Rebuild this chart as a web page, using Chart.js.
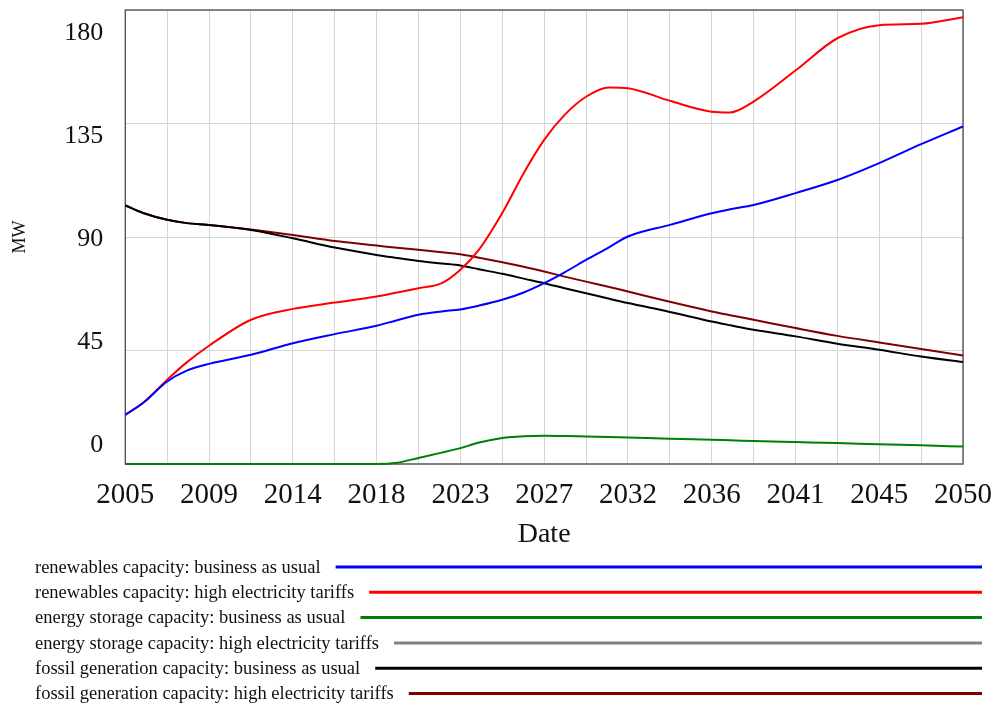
<!DOCTYPE html>
<html><head><meta charset="utf-8">
<script src="https://cdn.jsdelivr.net/npm/chart.js@4.4.0/dist/chart.umd.min.js"></script>
<style>html,body{margin:0;padding:0;background:#fff;overflow:hidden}</style>
</head><body>
<canvas id="c" width="996" height="707"></canvas>
<script>
// ---- data ----
const years = [2005, 2006, 2007.25, 2008.3, 2009.5, 2011.75, 2014, 2016.25, 2018.5, 2019.6, 2020.75, 2022, 2023, 2024, 2025.25, 2026.4, 2027.5, 2028.6, 2029.75, 2031, 2032, 2034.25, 2036.5, 2037.5, 2038.75, 2041, 2043.25, 2045.5, 2047.75, 2050];
const renewablesBAU = [19.5, 24.5, 32.7, 37.0, 39.7, 43.3, 47.9, 51.5, 54.8, 57.0, 59.2, 60.5, 61.3, 62.8, 65.1, 68.0, 71.7, 76.0, 80.9, 86.0, 90.2, 94.8, 99.4, 101.0, 102.7, 107.4, 112.6, 119.3, 126.8, 133.8];
const renewablesHigh = [19.5, 24.5, 33.4, 40.3, 46.9, 57.2, 61.5, 64.0, 66.4, 68.0, 69.7, 71.7, 77.0, 85.0, 99.5, 115.3, 128.5, 138.4, 145.6, 149.3, 149.0, 144.0, 139.7, 139.4, 143.7, 156.0, 168.8, 174.0, 174.5, 177.1];
const storageBAU = [0, 0, 0, 0, 0, 0, 0, 0, 0, 0.5, 2.4, 4.5, 6.3, 8.5, 10.3, 11.0, 11.2, 11.1, 10.9, 10.7, 10.5, 10.0, 9.6, 9.4, 9.1, 8.7, 8.3, 7.8, 7.4, 6.9];
const storageHigh = [0, 0, 0, 0, 0, 0, 0, 0, 0, 0, 0, 0, 0, 0, 0, 0, 0, 0, 0, 0, 0, 0, 0, 0, 0, 0, 0, 0, 0, 0];
const fossilBAU = [102.5, 99.4, 96.8, 95.5, 94.8, 92.8, 89.5, 85.8, 82.9, 81.7, 80.5, 79.5, 78.7, 77.2, 75.4, 73.5, 71.7, 69.7, 67.7, 65.5, 63.8, 60.3, 56.5, 55.0, 53.2, 50.6, 47.7, 45.3, 42.6, 40.4];
const fossilHigh = [102.5, 99.4, 96.8, 95.5, 94.8, 93.0, 90.8, 88.4, 86.6, 85.7, 84.9, 84.0, 83.2, 81.8, 80.0, 78.2, 76.3, 74.3, 72.3, 70.2, 68.4, 64.3, 60.5, 59.0, 57.2, 53.9, 50.8, 48.2, 45.6, 43.0];

const seriesLabels = [
  'renewables capacity: business as usual',
  'renewables capacity: high electricity tariffs',
  'energy storage capacity: business as usual',
  'energy storage capacity: high electricity tariffs',
  'fossil generation capacity: business as usual',
  'fossil generation capacity: high electricity tariffs'
];
const seriesValues = [renewablesBAU, renewablesHigh, storageBAU, storageHigh, fossilBAU, fossilHigh];
const seriesColors = ['#0000ff', '#ff0000', '#008000', '#808080', '#000000', '#800000'];

const xGridYears = [2005, 2007.25, 2009.5, 2011.75, 2014, 2016.25, 2018.5, 2020.75, 2023, 2025.25, 2027.5, 2029.75, 2032, 2034.25, 2036.5, 2038.75, 2041, 2043.25, 2045.5, 2047.75, 2050];
const xTickLabels = ['2005', '2009', '2014', '2018', '2023', '2027', '2032', '2036', '2041', '2045', '2050'];
const yTickValues = [0, 45, 90, 135, 180];
const yTickLabels = ['0', '45', '90', '135', '180'];
const xTitle = 'Date';
const yTitle = 'MW';

const SERIF = "'Liberation Serif', 'Times New Roman', serif";

function noPad(s) { s.paddingTop = 0; s.paddingBottom = 0; s.paddingLeft = 0; s.paddingRight = 0; }

// ---- plugins ----
const framePlugin = {
  id: 'frame',
  beforeDatasetsDraw(chart) {
    const a = chart.chartArea, ctx = chart.ctx;
    ctx.save();
    ctx.strokeStyle = '#4a4a4a';
    ctx.lineWidth = 1.3;
    ctx.strokeRect(a.left, a.top, a.right - a.left, a.bottom - a.top);
    ctx.restore();
  }
};
const lineLegendPlugin = {
  id: 'lineLegend',
  afterDraw(chart) {
    const ctx = chart.ctx;
    ctx.save();
    ctx.font = '18.5px ' + SERIF;
    ctx.textBaseline = 'middle';
    ctx.textAlign = 'left';
    chart.data.datasets.forEach((ds, i) => {
      const y = 567 + i * 25.3;
      ctx.fillStyle = '#111';
      ctx.fillText(ds.label, 35, y + 1);
      const w = ctx.measureText(ds.label).width;
      ctx.strokeStyle = ds.borderColor;
      ctx.lineWidth = 3;
      ctx.beginPath();
      ctx.moveTo(35 + w + 15, y);
      ctx.lineTo(982, y);
      ctx.stroke();
    });
    ctx.restore();
  }
};

// ---- chart ----
new Chart(document.getElementById('c'), {
  type: 'line',
  data: {
    datasets: seriesLabels.map((label, i) => ({
      label,
      data: years.map((x, j) => ({ x, y: seriesValues[i][j] })),
      borderColor: seriesColors[i],
      backgroundColor: seriesColors[i],
      borderWidth: 2,
      pointRadius: 0,
      cubicInterpolationMode: 'monotone',
      fill: false,
      clip: 3
    }))
  },
  options: {
    responsive: false,
    animation: false,
    devicePixelRatio: 1,
    layout: { padding: { left: 0, top: 10, right: 33, bottom: 153 } },
    plugins: { legend: { display: false }, tooltip: { enabled: false } },
    scales: {
      x: {
        type: 'linear', min: 2005, max: 2050,
        afterBuildTicks: s => { s.ticks = xGridYears.map(v => ({ value: v })); },
        afterFit: s => { s.height = 90; noPad(s); },
        grid: { color: '#d6d6d6', lineWidth: 1, drawTicks: false },
        border: { display: false },
        ticks: {
          autoSkip: false, maxRotation: 0, padding: 14,
          color: '#111',
          font: { family: SERIF, size: 29 },
          callback: (v, i) => (i % 2 === 0 ? xTickLabels[i / 2] : '')
        },
        title: { display: true, text: xTitle, color: '#111', font: { family: SERIF, size: 28 }, padding: { top: 0, bottom: 3 } }
      },
      y: {
        type: 'linear', min: 0, max: 180, position: 'left', weight: 0,
        afterBuildTicks: s => { s.ticks = yTickValues.map(v => ({ value: v })); },
        afterFit: s => { s.width = 0; noPad(s); },
        grid: { color: '#d6d6d6', lineWidth: 1, drawTicks: false },
        border: { display: false },
        ticks: { display: false }
      },
      yLabels: {
        type: 'linear', min: -8.07, max: 190.17, position: 'left', weight: 1,
        afterBuildTicks: s => { s.ticks = yTickValues.map(v => ({ value: v })); },
        afterFit: s => { s.width = 125.3; noPad(s); },
        grid: { display: false, drawTicks: false },
        border: { display: false },
        ticks: {
          padding: 22, color: '#111',
          font: { family: SERIF, size: 26 },
          callback: (v) => yTickLabels[yTickValues.indexOf(v)]
        },
        title: { display: true, text: yTitle, color: '#111', font: { family: SERIF, size: 18 }, padding: { top: 9, bottom: 0 } }
      }
    }
  },
  plugins: [framePlugin, lineLegendPlugin]
});
</script>
</body></html>
